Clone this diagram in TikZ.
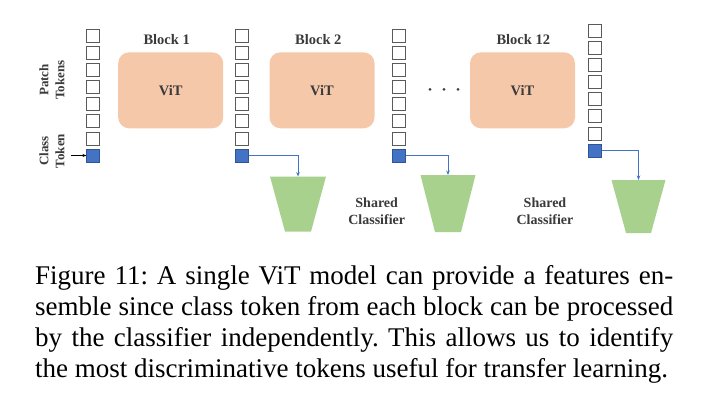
\documentclass[tikz,border=0pt]{standalone}
\usepackage{fontspec}
\setmainfont{Liberation Serif}
\usetikzlibrary{arrows.meta}
\definecolor{peach}{HTML}{F6C8AA}
\definecolor{clfgreen}{HTML}{A9D18E}
\definecolor{clsblue}{HTML}{4472C4}
\definecolor{clsborder}{HTML}{2F5597}
\definecolor{tokgray}{HTML}{5A5A5A}
\definecolor{labtext}{HTML}{3A3A3A}
\tikzset{
  tok/.style={draw=tokgray, fill=white, line width=0.7pt, minimum size=13pt, inner sep=0pt},
  clstok/.style={tok, draw=clsborder, fill=clsblue},
  vitbox/.style={fill=peach, rounded corners=11pt, minimum width=105pt, minimum height=76pt, inner sep=0pt},
  clffill/.style={fill=clfgreen},
  lab/.style={font=\bfseries\fontsize{14.5}{16}\selectfont, text=labtext, inner sep=0pt},
  sclab/.style={font=\bfseries\fontsize{14}{17}\selectfont, text=labtext, align=center, inner sep=0pt},
  sidelab/.style={font=\bfseries\fontsize{13}{16}\selectfont, text=labtext, align=center, rotate=90, inner sep=0pt},
  flow/.style={draw=clsblue, line width=0.8pt, -{Stealth[length=4.5pt,width=3.5pt]}},
}
\begin{document}
\begin{tikzpicture}[x=1pt,y=-1pt]
\useasboundingbox (0,0) rectangle (708,414);
\fill[white] (0,0) rectangle (708,414);

% token columns
\foreach \c/\x/\y in {a/93.3/35.8, b/241.7/35.8, c/399.3/35.8, d/595/30.8}{
  \foreach \i in {0,...,6}{
    \node[tok] (\c\i) at (\x,\y+\i*17.1) {};
  }
  \node[clstok] (\c7) at (\x,\y+7*17.1) {};
}

% side labels
\node[sidelab] (patchlab) at (52,80) {Patch\\Tokens};
\node[sidelab] (classlab) at (52,151) {Class\\Token};
\coordinate (inarrow) at ([xshift=-15pt]a7.west);
\draw[-{Stealth[length=4pt,width=3pt]}, line width=0.6pt] (inarrow) -- (a7.west);

% ViT blocks
\node[vitbox] (vit1) at (170.7,90.3) {};
\node[vitbox] (vit2) at (322,90.3) {};
\node[vitbox] (vit3) at (522.5,90.3) {};
\node[lab] at (vit1) {ViT};
\node[lab] at (vit2) {ViT};
\node[lab] at (vit3) {ViT};
\node[lab] (blk1) at (166.7,39.3) {Block 1};
\node[lab] (blk2) at (318.3,39.3) {Block 2};
\node[lab] (blk12) at (523.3,39.3) {Block 12};

% dots
\foreach \dx in {430,444,458}{\fill[labtext] (\dx,89.3) circle (1.5pt);}

% classifiers (top-centre coordinates)
\coordinate (clf1) at (298,176.5);
\coordinate (clf2) at (448,175);
\coordinate (clf3) at (638.5,180);
\fill[clffill] (clf1) ++(-28,0) -- ++(56,0) -- ++(-15,55) -- ++(-26,0) -- cycle;
\fill[clffill] (clf2) ++(-27.5,0) -- ++(55,0) -- ++(-14.5,57) -- ++(-26,0) -- cycle;
\fill[clffill] (clf3) ++(-27,0) -- ++(54,0) -- ++(-14.5,53) -- ++(-25,0) -- cycle;

\draw[flow] (b7.east) -| (clf1);
\draw[flow] (c7.east) -| (clf2);
\draw[flow] (d7.east) -| (clf3);

\node[sclab] (sc1) at (376.7,211.7) {Shared\\Classifier};
\node[sclab] (sc2) at (545,211.7) {Shared\\Classifier};

% caption
\node[anchor=north west, text width=638pt, align=justify, inner sep=0pt,
      font=\frenchspacing\fontsize{27}{31}\selectfont] (cap) at (35,265)
 {Figure 11: A single ViT model can provide a features en-\linebreak
  semble since class token from each block can be processed\linebreak
  by the classifier independently. This allows us to identify\linebreak
  the most discriminative tokens useful for transfer learning.};
\end{tikzpicture}
\end{document}
